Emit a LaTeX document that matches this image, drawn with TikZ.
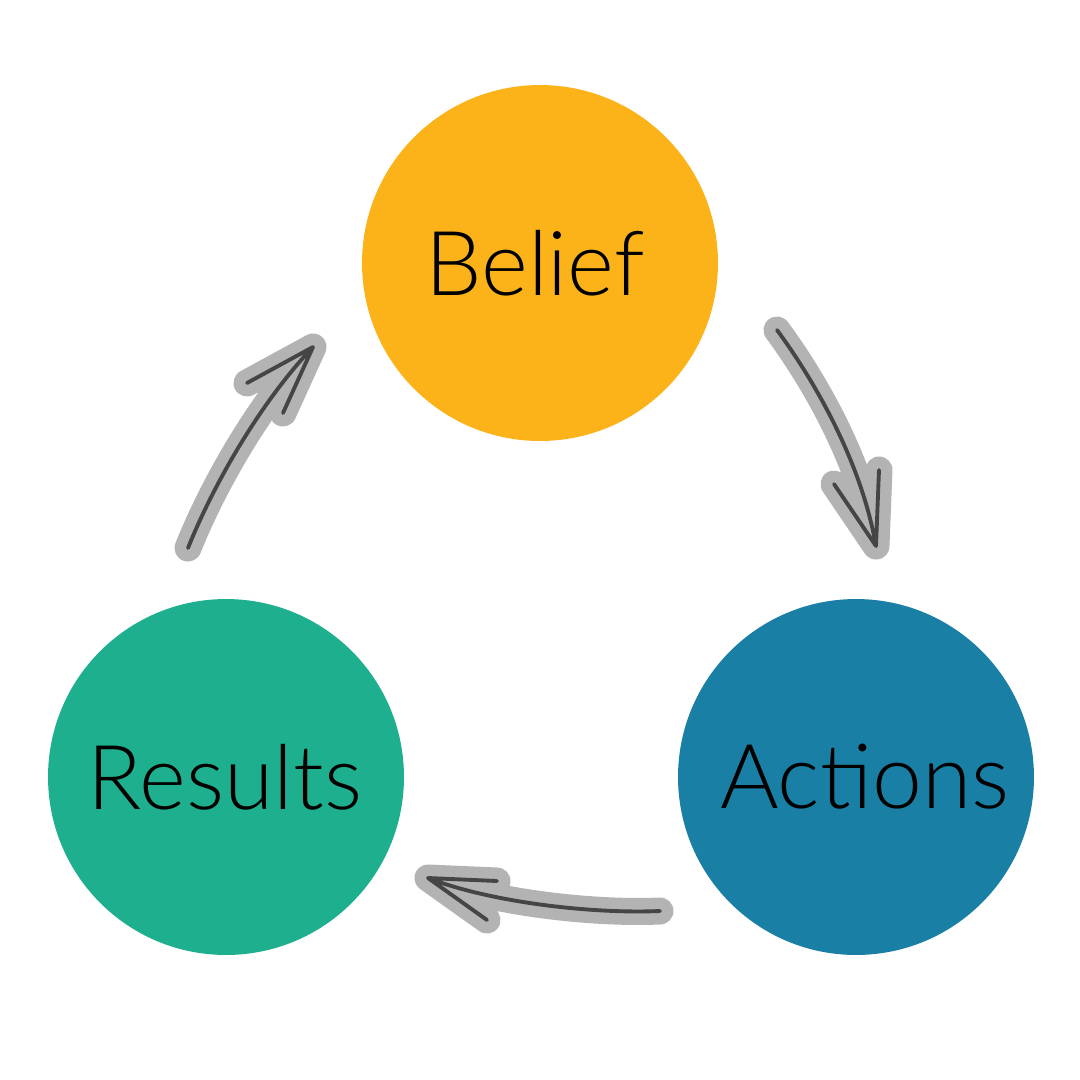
\documentclass[tikz,border=0pt]{standalone}
\usepackage{fontspec}
\setmainfont{Lato Light}
\definecolor{beliefc}{HTML}{FCB31A}
\definecolor{resultc}{HTML}{1EAF8E}
\definecolor{actionc}{HTML}{1A7FA5}
\definecolor{haloc}{HTML}{B3B3B3}
\definecolor{inkc}{HTML}{454545}
\begin{document}
\begin{tikzpicture}[x=0.02cm,y=-0.02cm,
  bubble/.style={circle,minimum size=7.12cm,inner sep=0pt},
  label/.style={font=\fontsize{51}{60}\selectfont,text=black},
  halo/.style={draw=haloc,line width=0.54cm,line cap=round,line join=round},
  ink/.style={draw=inkc,line width=2.2pt,line cap=round,line join=round}]
\useasboundingbox (0,0) rectangle (1080,1080);
\fill[white] (0,0) rectangle (1080,1080);
\node[bubble,fill=beliefc] (belief) at (540,263) {};
\node[bubble,fill=resultc] (results) at (226,777) {};
\node[bubble,fill=actionc] (actions) at (856,777) {};
\node[label] (tbelief) at ([xshift=-2.8pt]belief.center) {Belief};
\node[label] (tresults) at ([xshift=-0.6pt]results.center) {Results};
\node[label] (tactions) at ([xshift=5pt]actions.center) {Actions};
% arrow Results -> Belief
\coordinate (a1s) at (188,548);
\coordinate (a1c) at (212,488);
\coordinate (a1d) at (258,405);
\coordinate (a1t) at (313,347);
\coordinate (a1h1) at (247,383);
\coordinate (a1h2) at (283,413);
% arrow Belief -> Actions
\coordinate (a2s) at (777,330);
\coordinate (a2c) at (808,372);
\coordinate (a2d) at (860,455);
\coordinate (a2t) at (876,546);
\coordinate (a2h1) at (834,484);
\coordinate (a2h2) at (879,470);
% arrow Actions -> Results
\coordinate (a3s) at (660,911);
\coordinate (a3c) at (590,914);
\coordinate (a3d) at (490,902);
\coordinate (a3t) at (428,878);
\coordinate (a3h1) at (497,881);
\coordinate (a3h2) at (487,920);
\foreach \a in {a1,a2,a3}{
  \path[halo] (\a s) .. controls (\a c) and (\a d) .. (\a t) (\a h1) -- (\a t) -- (\a h2);
}
\foreach \a in {a1,a2,a3}{
  \path[ink] (\a s) .. controls (\a c) and (\a d) .. (\a t) (\a h1) -- (\a t) -- (\a h2);
}
\end{tikzpicture}
\end{document}
